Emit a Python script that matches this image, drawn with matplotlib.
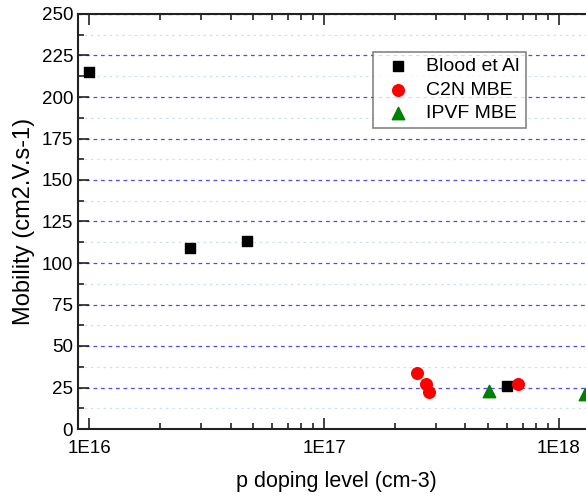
import matplotlib
matplotlib.use("Agg")
import matplotlib.pyplot as plt
from matplotlib.ticker import MultipleLocator, LogLocator, FixedLocator, FixedFormatter, NullFormatter

plt.rcParams['font.family'] = ['Liberation Sans', 'DejaVu Sans']

# Hole mobility vs p doping level
blood_x = [1.0e16, 2.69e16, 4.7e16, 6.0e17]
blood_y = [215, 109, 113, 26]
c2n_x = [2.49e17, 2.72e17, 2.80e17, 6.7e17]
c2n_y = [34, 27, 22, 27]
ipvf_x = [5.03e17, 1.29e18]
ipvf_y = [23, 21]

x_ticks = [1e16, 1e17, 1e18]
x_tick_labels = ["1E16", "1E17", "1E18"]

fig = plt.figure(figsize=(5.86, 4.96), dpi=100)
ax = fig.add_axes([78/586, 1 - 429/496, (594 - 78)/586, (429 - 14)/496])

ax.set_xscale('log')
ax.set_xlim(10**15.953, 10**18.149)
ax.set_ylim(0, 250)

ax.scatter(blood_x, blood_y, marker='s', s=55, color='black', label='Blood et Al', zorder=3, clip_on=False)
ax.scatter(c2n_x, c2n_y, marker='o', s=70, color='#ff0000', label='C2N MBE', zorder=3)
ax.scatter(ipvf_x, ipvf_y, marker='^', s=80, color='#008000', label='IPVF MBE', zorder=3)

ax.yaxis.set_major_locator(MultipleLocator(25))
ax.yaxis.set_minor_locator(MultipleLocator(12.5))
ax.xaxis.set_major_locator(FixedLocator(x_ticks))
ax.xaxis.set_major_formatter(FixedFormatter(x_tick_labels))
ax.xaxis.set_minor_locator(LogLocator(base=10, subs=range(2, 10)))
ax.xaxis.set_minor_formatter(NullFormatter())

ax.grid(True, which='major', axis='y', color='#4a4aff', linestyle=(0, (3, 3)), linewidth=0.9)
ax.grid(True, which='minor', axis='y', color='#cfe0f5', linestyle=(0, (2, 3)), linewidth=0.9)
ax.set_axisbelow(True)

ax.tick_params(which='both', direction='in', top=True, right=False, labelsize=13.5, width=1.2, colors='#222222')
ax.tick_params(which='major', length=8)
ax.tick_params(which='minor', length=4.5)
ax.tick_params(axis='x', pad=8)
for lbl in ax.get_xticklabels() + ax.get_yticklabels():
    lbl.set_color('black')

for side in ['left', 'bottom', 'top']:
    ax.spines[side].set_linewidth(1.5)
    ax.spines[side].set_color('#222222')
ax.spines['right'].set_visible(False)

ax.set_xlabel('p doping level (cm-3)', fontsize=15.5, labelpad=10)
ax.set_ylabel('Mobility (cm2.V.s-1)', fontsize=17, labelpad=5)

leg = ax.legend(loc='upper left', bbox_to_anchor=((373 - 78)/516, 1 - (52 - 14)/415),
                fontsize=14, frameon=True, fancybox=False, edgecolor='#666666',
                handletextpad=0.45, borderpad=0.3, labelspacing=0.3, handlelength=2.0,
                borderaxespad=0)
leg.get_frame().set_linewidth(1.2)

fig.savefig('out.png', dpi=100)
